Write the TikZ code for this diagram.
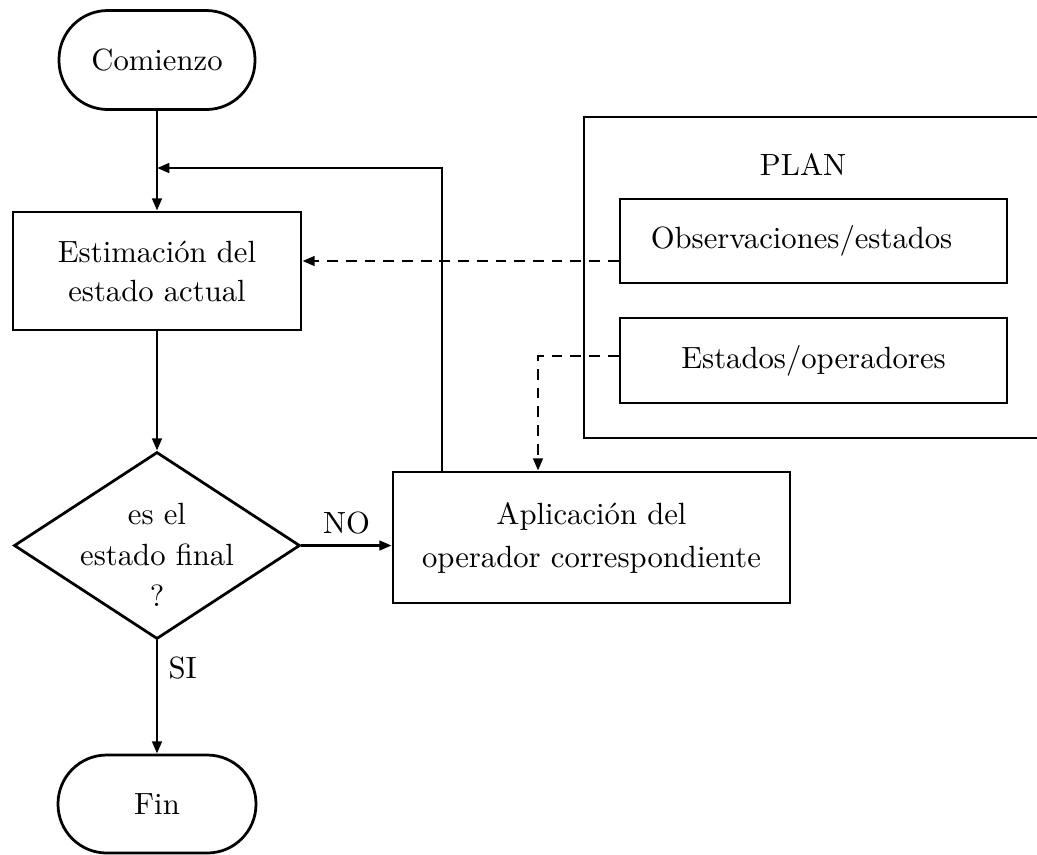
\documentclass[tikz,border=0pt]{standalone}
\usepackage{fontspec}
\usetikzlibrary{shapes.geometric,arrows.meta}
% one drawing unit
\def\u{0.326pt}
\begin{document}
\begin{tikzpicture}[x=0.326pt,y=-0.326pt,
  line width=0.9pt,
  arr/.style={-{Triangle[length=4pt,width=3.1pt]}},
  dsh/.style={dash pattern=on 3.5pt off 2.6pt},
  box/.style={draw,rectangle,align=center,inner sep=0pt},
  term/.style={draw,rectangle,rounded corners=15.9pt,inner sep=0pt},
]
\useasboundingbox (0,0) rectangle (1037,854);

% main column
\node[term, minimum width={196*\u}, minimum height={99*\u}] (com) at (157,60) {Comienzo};
\node[box, minimum width={288*\u}, minimum height={118*\u}, font=\fontsize{10}{12.7}\selectfont]
  (est) at (157,271) {Estimación del\\estado actual};
\node[draw, diamond, inner sep=0pt, minimum width={286*\u}, minimum height={187*\u},
      label={[align=center,yshift=-3pt,font=\fontsize{10}{13.4}\selectfont]center:{es el\\estado final\\?}}]
  (dia) at (157,545.5) {};
\node[term, minimum width={198*\u}, minimum height={98*\u}] (fin) at (157,804) {Fin};

% operator application
\node[box, minimum width={397*\u}, minimum height={131*\u}, font=\fontsize{10}{14}\selectfont]
  (apl) at (591.5,537.5) {Aplicación del\\operador correspondiente};

% plan frame, open to the right
\coordinate (ptr) at (1037,117);
\coordinate (ptl) at (584,117);
\coordinate (pbl) at (584,438);
\coordinate (pbr) at (1037,438);
\draw (ptr) -- (ptl) -- (pbl) -- (pbr);
\node (plan) at (803,165) {PLAN};
\node[box, minimum width={387*\u}, minimum height={84*\u}] (obs) at (813.5,241) {Observaciones/estados\hspace*{7.8pt}};
\node[box, minimum width={387*\u}, minimum height={85*\u}] (eop) at (813.5,360.5) {Estados/operadores};

% flow
\draw[arr] (com) -- (est);
\draw[arr] (est) -- (dia);
\draw[arr] (dia.east) -- (dia.east -| apl.west) node[midway,above] {NO};
\draw[arr] (dia) -- (fin) node[pos=.24,right] {SI};

% loop back
\coordinate (fb) at (442,168);
\draw[arr] (apl.north -| fb) -- (fb) -- (fb -| com.south);

% plan lookups
\coordinate (d1) at (620,261);
\draw[arr,dsh] (obs.west |- d1) -- (d1 -| est.east);
\coordinate (d2) at (538,356);
\draw[arr,dsh] (eop.west |- d2) -- (d2) -- (d2 |- apl.north);
\end{tikzpicture}
\end{document}
